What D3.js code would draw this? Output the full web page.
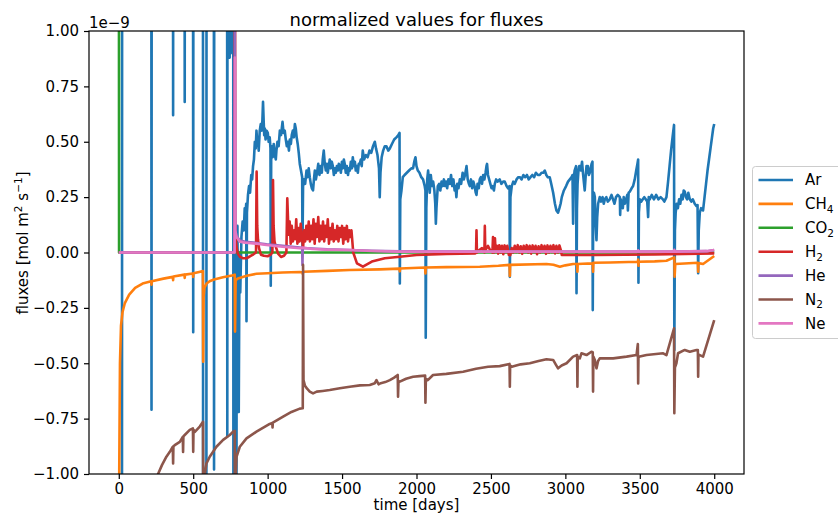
<!DOCTYPE html>
<html>
<head>
<meta charset="utf-8">
<script src="https://cdn.jsdelivr.net/npm/d3@7"></script>
<style>
  body { margin: 0; background: #fff; }
  svg { font-family: "DejaVu Sans", sans-serif; }
</style>
</head>
<body>
<svg id="chart" width="838" height="523"></svg>
<script>
// Legend order = drawing order
const seriesNames = ["Ar", "CH4", "CO2", "H2", "He", "N2", "Ne"];
const seriesColors = ["#1f77b4", "#ff7f0e", "#2ca02c", "#d62728", "#9467bd", "#8c564b", "#e377c2"];

// [time in days, flux in 1e-9 mol m2 s-1]; +-3 = off the visible range
const arData = [
  [0,-3],[21,-3],[23,3],
  [218,3],[220,-0.71],[222,3],
  [363,3],[365,0.62],[367,3],
  [441,3],[443,0.68],[445,3],
  [498,3],[500,-0.36],[502,3],
  [565,3],[567,-3],[588,-3],[590,3],
  [638,3],[640,-0.98],[642,3],
  [727,3],[729,-0.83],[731,3],
  [743,3],[745,0.88],[748,3],[752,0.9],[755,3],
  [768,3],[771,-3],[776,3],[781,-3],[788,-3],
  [792,-0.2],[797,0.12],[801,-0.3],[806,-0.72],[811,0.0],[816,-0.18],[824,0.07],[832,0.14],[840,0.1],[846,0.2],[852,0.18],[856,0.22],[858,-0.31],[861,0.18],[868,0.26],[875,0.3],[882,0.27],[890,0.35],[896,0.33],[902,0.39],[908,0.42],[914,0.5],[920,0.47],[925,0.55],[930,0.5],[934,0.52],[940,0.46],[947,0.55],[954,0.58],[960,0.55],[965,0.6],[969,0.68],[973,0.6],[977,0.53],[981,0.56],[986,0.51],[993,0.55],[1001,0.54],[1007,0.5],[1014,0.52],[1019,0.47],[1021,-0.15],[1024,0.45],[1028,0.48],[1034,0.43],[1041,0.49],[1048,0.44],[1055,0.42],[1059,0.46],[1066,0.5],[1074,0.48],[1082,0.55],[1090,0.53],[1100,0.59],[1107,0.54],[1115,0.55],[1122,0.51],[1129,0.48],[1136,0.5],[1143,0.46],[1149,0.51],[1156,0.49],[1162,0.53],[1169,0.55],[1176,0.52],[1183,0.58],[1189,0.56],[1195,0.52],[1202,0.49],[1209,0.45],[1216,0.4],[1224,0.37],[1232,0.34],[1234,0.02],[1238,0.3],[1245,0.33],[1252,0.31],[1261,0.37],[1268,0.34],[1276,0.38],[1283,0.34],[1290,0.31],[1297,0.29],[1305,0.28],[1311,0.33],[1317,0.37],[1324,0.33],[1332,0.36],[1340,0.4],[1348,0.35],[1356,0.39],[1364,0.36],[1370,0.42],[1377,0.46],[1384,0.4],[1391,0.37],[1398,0.4],[1404,0.36],[1411,0.39],[1417,0.42],[1424,0.38],[1431,0.41],[1438,0.39],[1445,0.35],[1452,0.38],[1458,0.36],[1465,0.39],[1472,0.37],[1478,0.4],[1485,0.39],[1492,0.36],[1499,0.41],[1505,0.38],[1512,0.42],[1518,0.4],[1525,0.36],[1532,0.39],[1540,0.35],[1546,0.38],[1552,0.37],[1559,0.41],[1566,0.38],[1572,0.43],[1579,0.39],[1586,0.41],[1592,0.37],[1599,0.39],[1606,0.36],[1612,0.4],[1619,0.4],[1626,0.42],[1632,0.39],[1639,0.46],[1648,0.42],[1660,0.44],[1672,0.43],[1684,0.46],[1696,0.45],[1708,0.48],[1720,0.5],[1728,0.47],[1738,0.44],[1748,0.38],[1753,0.25],[1758,0.36],[1766,0.43],[1776,0.46],[1787,0.48],[1798,0.48],[1810,0.46],[1821,0.47],[1835,0.49],[1850,0.51],[1865,0.52],[1878,0.53],[1886,0.54],[1888,-0.14],[1891,0.24],[1899,0.28],[1908,0.34],[1920,0.35],[1935,0.36],[1950,0.37],[1965,0.38],[1977,0.38],[1985,0.41],[1993,0.43],[2000,0.39],[2009,0.37],[2020,0.36],[2032,0.34],[2044,0.33],[2055,0.3],[2060,0.28],[2062,-0.385],[2066,0.2],[2072,0.33],[2078,0.37],[2084,0.32],[2089,0.27],[2096,0.35],[2104,0.3],[2112,0.32],[2120,0.28],[2126,0.22],[2130,0.13],[2134,0.2],[2143,0.3],[2152,0.31],[2160,0.28],[2168,0.32],[2176,0.3],[2184,0.33],[2190,0.3],[2198,0.32],[2206,0.29],[2214,0.33],[2224,0.31],[2232,0.35],[2240,0.3],[2248,0.33],[2256,0.28],[2262,0.3],[2268,0.25],[2274,0.31],[2282,0.29],[2291,0.33],[2300,0.31],[2310,0.36],[2318,0.33],[2326,0.35],[2336,0.39],[2344,0.33],[2352,0.31],[2358,0.3],[2366,0.33],[2374,0.29],[2382,0.32],[2390,0.3],[2398,0.27],[2403,0.26],[2410,0.31],[2418,0.29],[2425,0.33],[2432,0.34],[2440,0.31],[2448,0.35],[2456,0.33],[2464,0.36],[2470,0.39],[2474,0.4],[2480,0.35],[2488,0.33],[2496,0.31],[2504,0.29],[2512,0.3],[2520,0.28],[2526,0.31],[2535,0.33],[2545,0.32],[2559,0.33],[2570,0.31],[2582,0.32],[2593,0.32],[2605,0.3],[2615,0.29],[2625,0.3],[2627,-0.11],[2631,0.25],[2640,0.3],[2650,0.32],[2660,0.31],[2672,0.33],[2684,0.34],[2694,0.34],[2706,0.33],[2718,0.35],[2730,0.34],[2742,0.35],[2754,0.33],[2766,0.34],[2778,0.35],[2790,0.34],[2802,0.36],[2815,0.35],[2828,0.35],[2840,0.36],[2852,0.36],[2862,0.37],[2872,0.35],[2882,0.34],[2895,0.34],[2905,0.31],[2918,0.27],[2930,0.22],[2940,0.19],[2951,0.18],[2960,0.2],[2968,0.22],[2976,0.25],[2990,0.28],[3005,0.3],[3018,0.32],[3030,0.33],[3042,0.34],[3048,0.35],[3052,0.13],[3056,0.33],[3062,0.37],[3072,0.39],[3075,-0.184],[3078,0.2],[3082,0.31],[3088,0.37],[3093,0.39],[3097,0.39],[3104,0.37],[3112,0.41],[3118,0.36],[3124,0.32],[3130,0.28],[3136,0.34],[3142,0.39],[3148,0.36],[3151,0.39],[3158,0.35],[3164,0.36],[3170,0.38],[3176,0.4],[3182,0.41],[3184,-0.26],[3187,0.2],[3192,0.27],[3198,0.25],[3203,0.13],[3209,0.056],[3214,0.16],[3220,0.22],[3231,0.25],[3240,0.23],[3250,0.25],[3258,0.22],[3265,0.24],[3275,0.25],[3285,0.23],[3298,0.24],[3310,0.26],[3320,0.24],[3330,0.22],[3340,0.25],[3352,0.26],[3366,0.25],[3368,0.17],[3372,0.24],[3386,0.2],[3392,0.25],[3399,0.22],[3408,0.24],[3416,0.26],[3420,0.19],[3425,0.27],[3433,0.275],[3445,0.29],[3455,0.3],[3466,0.33],[3476,0.37],[3484,0.4],[3489,0.42],[3491,-0.136],[3494,0.18],[3500,0.24],[3510,0.23],[3520,0.24],[3530,0.25],[3540,0.24],[3550,0.23],[3556,0.16],[3560,0.25],[3567,0.24],[3580,0.26],[3595,0.24],[3610,0.26],[3625,0.24],[3640,0.25],[3655,0.24],[3665,0.23],[3679,0.25],[3690,0.32],[3700,0.39],[3710,0.46],[3720,0.52],[3730,0.576],[3732,-0.44],[3736,0.1],[3741,0.18],[3748,0.22],[3756,0.2],[3764,0.24],[3772,0.22],[3780,0.26],[3788,0.24],[3795,0.28],[3802,0.275],[3810,0.25],[3818,0.24],[3826,0.27],[3836,0.24],[3846,0.23],[3856,0.24],[3869,0.22],[3880,0.21],[3888,0.214],[3892,-0.094],[3896,0.1],[3903,0.18],[3912,0.2],[3925,0.19],[3935,0.25],[3945,0.31],[3955,0.37],[3965,0.42],[3975,0.47],[3985,0.52],[3993,0.56],[4000,0.58]
];

const ch4Data = [
  [0,-3],[3,-1.0],[8,-0.5],[15,-0.33],[25,-0.27],[40,-0.23],[70,-0.19],[110,-0.16],[160,-0.14],[218,-0.13],[220,-0.145],[222,-0.13],[300,-0.118],[363,-0.11],[365,-0.125],[367,-0.108],[441,-0.1],[443,-0.115],[445,-0.1],[498,-0.095],[500,-0.11],[502,-0.094],[540,-0.088],[565,-0.084],[567,-0.493],[570,-0.2],[575,-0.16],[590,-0.14],[610,-0.13],[640,-0.122],[700,-0.112],[760,-0.104],[779,-0.1],[781,-0.357],[785,-0.125],[800,-0.117],[860,-0.105],[925,-0.096],[1000,-0.094],[1100,-0.09],[1216,-0.088],[1234,-0.09],[1236,-0.097],[1238,-0.087],[1400,-0.083],[1550,-0.079],[1753,-0.076],[1886,-0.073],[1888,-0.085],[1890,-0.072],[2058,-0.068],[2060,-0.095],[2062,-0.068],[2200,-0.066],[2425,-0.064],[2550,-0.06],[2625,-0.056],[2627,-0.106],[2629,-0.056],[2873,-0.052],[2920,-0.055],[2963,-0.064],[3000,-0.058],[3052,-0.052],[3079,-0.052],[3081,-0.087],[3083,-0.052],[3150,-0.05],[3184,-0.05],[3186,-0.087],[3188,-0.046],[3300,-0.045],[3487,-0.042],[3489,-0.032],[3491,-0.06],[3493,-0.042],[3600,-0.04],[3679,-0.037],[3732,-0.022],[3734,-0.109],[3738,-0.052],[3800,-0.05],[3890,-0.046],[3892,-0.087],[3894,-0.048],[3925,-0.052],[4000,-0.016]
];

const co2Data = [[0,3],[2,0],[780,0],[4000,0]];

const h2Data = [
  [0,0],[778,0],[780,3],[782,0.15],[786,0.06],[792,0.02],[800,-0.005],[815,-0.02],[835,-0.026],[858,-0.026],[880,-0.018],[905,-0.008],[922,0],[926,0.365],[930,0.12],[935,0.06],[942,0.02],[955,-0.01],[975,-0.015],[1000,-0.017],[1020,-0.01],[1032,0],[1036,0.327],[1040,0.12],[1046,0.05],[1055,0.026],[1070,-0.005],[1090,-0.02],[1110,-0.015],[1126,0],[1132,0.245],[1138,0.13],
  [1142,0.08],[1148,0.14],[1155,0.04],[1162,0.12],[1170,0.05],[1178,0.1],[1185,0.06],[1192,0.15],[1200,0.04],[1208,0.11],[1215,0.05],[1222,0.13],[1230,0.07],[1238,0.02],[1245,0.1],[1252,0.05],[1260,0.12],[1268,0.06],[1276,0.14],[1284,0.05],[1292,0.12],[1300,0.06],[1308,0.15],[1316,0.04],[1324,0.13],[1332,0.07],[1340,0.16],[1348,0.05],[1356,0.12],[1364,0.06],[1372,0.14],[1380,0.05],[1388,0.12],[1396,0.07],[1404,0.15],[1412,0.04],[1420,0.11],[1428,0.06],[1436,0.13],[1444,0.05],[1452,0.1],[1460,0.06],[1468,0.12],[1476,0.05],[1484,0.11],[1492,0.07],[1500,0.12],[1508,0.04],[1516,0.11],[1524,0.06],[1532,0.12],[1540,0.05],[1548,0.1],[1556,0.07],[1563,0.1],
  [1575,0.0],[1600,-0.049],[1640,-0.064],[1700,-0.041],[1787,-0.026],[1888,-0.019],[2000,-0.011],[2200,-0.006],[2395,-0.004],[2400,0],[2403,0.1],[2406,0.0],[2420,0.01],[2440,0.02],[2456,0.0],[2459,0.12],[2462,0.01],[2480,0.03],[2495,0.01],[2510,0.0],[2514,0.07],[2517,0.01],[2522,0.0],[2527,0.064],[2531,0.01],
  [2540,0.03],[2548,-0.005],[2556,0.033],[2565,0.0],[2574,0.03],[2583,-0.008],[2592,0.032],[2601,0.002],[2610,0.03],[2620,-0.01],[2630,-0.012],[2640,0.02],[2650,0.0],[2660,0.03],[2670,0.002],[2680,0.033],[2690,0.0],[2700,0.028],[2710,-0.006],[2720,0.03],[2730,0.003],[2740,0.033],[2750,0.0],[2760,0.03],[2770,-0.005],[2780,0.032],[2790,0.002],[2800,0.03],[2810,-0.008],[2820,0.028],[2830,0.0],[2840,0.033],[2850,0.003],[2860,0.03],[2870,-0.006],[2880,0.032],[2890,0.0],[2900,0.03],[2910,0.002],[2920,0.033],[2930,-0.004],[2940,0.03],[2950,0.0],[2960,0.032],[2970,0.01],[2976,-0.011],[3200,-0.011],[3600,-0.009],[4000,-0.004]
];

const heData = [[0,0],[778,0],[780,1.0],[783,0.1],[790,0.075],[813,0.054],[850,0.048],[925,0.043],[992,0.037],[1100,0.03],[1216,0.022],[1232,0.02],[1234,-0.056],[1236,0.02],[1300,0.018],[1400,0.014],[1552,0.011],[1700,0.008],[1888,0.005],[2500,0.004],[3700,0.004],[3950,0.006],[4000,0.011]];

const neData = [[0,0],[778,0],[780,0.88],[783,0.1],[790,0.071],[813,0.049],[850,0.044],[925,0.04],[992,0.034],[1100,0.026],[1216,0.019],[1234,0.022],[1300,0.016],[1400,0.013],[1552,0.011],[1700,0.007],[1888,0.004],[3487,0.004],[3489,0.01],[3491,0.004],[3730,0.004],[3732,0.012],[3736,0.004],[3950,0.006],[4000,0.011]];

const n2Data = [
  [230,-1.3],[264,-1.0],[290,-0.96],[320,-0.922],[343,-0.9],[363,-0.877],[365,-0.952],[367,-0.875],[376,-0.87],[410,-0.855],[430,-0.832],[432,-0.9],[434,-0.83],[443,-0.824],[477,-0.801],[498,-0.794],[500,-0.9],[502,-0.8],[511,-0.81],[544,-0.786],[566,-0.764],[568,-1.5],[578,-1.0],[589,-0.952],[611,-0.922],[656,-0.877],[701,-0.846],[746,-0.824],[768,-0.809],[779,-0.805],[781,-1.5],[786,-1.0],[791,-0.922],[813,-0.877],[858,-0.839],[925,-0.809],[1014,-0.774],[1031,-0.77],[1033,-0.79],[1035,-0.768],[1104,-0.741],[1160,-0.72],[1216,-0.705],[1236,-0.703],[1238,-0.056],[1241,-0.576],[1250,-0.6],[1265,-0.615],[1283,-0.628],[1305,-0.636],[1330,-0.628],[1370,-0.625],[1417,-0.621],[1485,-0.613],[1552,-0.606],[1620,-0.6],[1686,-0.598],[1720,-0.59],[1731,-0.576],[1745,-0.595],[1760,-0.59],[1790,-0.585],[1821,-0.576],[1850,-0.565],[1874,-0.553],[1876,-0.651],[1879,-0.58],[1888,-0.583],[1930,-0.57],[1977,-0.561],[2020,-0.558],[2058,-0.556],[2060,-0.678],[2063,-0.57],[2076,-0.576],[2111,-0.553],[2200,-0.548],[2313,-0.538],[2400,-0.525],[2481,-0.516],[2559,-0.513],[2625,-0.503],[2627,-0.606],[2629,-0.51],[2640,-0.516],[2700,-0.505],[2761,-0.5],[2820,-0.49],[2873,-0.482],[2918,-0.485],[2935,-0.505],[2951,-0.523],[2975,-0.51],[3008,-0.5],[3052,-0.47],[3079,-0.463],[3081,-0.606],[3083,-0.47],[3097,-0.478],[3108,-0.455],[3142,-0.463],[3175,-0.448],[3184,-0.45],[3186,-0.628],[3188,-0.47],[3198,-0.485],[3209,-0.523],[3220,-0.49],[3231,-0.478],[3321,-0.478],[3411,-0.47],[3478,-0.463],[3487,-0.413],[3489,-0.591],[3491,-0.47],[3500,-0.47],[3545,-0.463],[3657,-0.455],[3679,-0.463],[3730,-0.342],[3732,-0.726],[3736,-0.52],[3746,-0.5],[3757,-0.455],[3802,-0.44],[3836,-0.448],[3881,-0.44],[3890,-0.44],[3892,-0.561],[3894,-0.46],[3903,-0.463],[3925,-0.47],[4000,-0.305]
];

const seriesData = [arData, ch4Data, co2Data, h2Data, heData, n2Data, neData];

const xTicks = [0, 500, 1000, 1500, 2000, 2500, 3000, 3500, 4000];
const yTicks = [-1, -0.75, -0.5, -0.25, 0, 0.25, 0.5, 0.75, 1];

// Layout
const width = 838, height = 523;
const margin = {top: 31, right: 94, bottom: 49, left: 89};
const innerWidth = width - margin.left - margin.right;
const innerHeight = height - margin.top - margin.bottom;
const lineWidth = 2.6;

const xScale = d3.scaleLinear()
  .domain([-200, 4200])
  .range([0, innerWidth]);
const yScale = d3.scaleLinear()
  .domain([-1, 1])
  .range([innerHeight, 0]);

const svg = d3.select("#chart");

const chart = svg.append("g")
  .attr("transform", `translate(${margin.left}, ${margin.top})`);

chart.append("clipPath")
    .attr("id", "plot-clip")
  .append("rect")
    .attr("width", innerWidth)
    .attr("height", innerHeight);

// Lines
const lineGenerator = d3.line()
  .x(d => xScale(d[0]))
  .y(d => yScale(d[1]));

const lines = chart.append("g").attr("clip-path", "url(#plot-clip)");
seriesData.forEach((series, i) => {
  lines.append("path")
    .attr("d", lineGenerator(series))
    .attr("fill", "none")
    .attr("stroke", seriesColors[i])
    .attr("stroke-width", lineWidth)
    .attr("stroke-linejoin", "round")
    .attr("stroke-linecap", "butt");
});

// Axes
const bottomAxis = d3.axisBottom(xScale)
  .tickValues(xTicks)
  .tickSize(5)
  .tickPadding(4)
  .tickFormat(d3.format("d"));
const xAxis = chart.append("g")
  .attr("transform", `translate(0, ${innerHeight})`)
  .call(bottomAxis);

const leftAxis = d3.axisLeft(yScale)
  .tickValues(yTicks)
  .tickSize(5)
  .tickPadding(5)
  .tickFormat(d3.format(".2f"));
const yAxis = chart.append("g")
  .call(leftAxis);

[xAxis, yAxis].forEach(axis => {
  axis.select(".domain").remove();
  axis.selectAll("line").attr("stroke", "#000").attr("stroke-width", 1.2);
  axis.selectAll("text")
    .attr("fill", "#000")
    .style("font-size", "15px")
    .style("font-family", "DejaVu Sans");
});

// Frame
chart.append("rect")
  .attr("width", innerWidth)
  .attr("height", innerHeight)
  .attr("fill", "none")
  .attr("stroke", "#000")
  .attr("stroke-width", 1.2);

// Offset text, title, labels
chart.append("text")
  .attr("x", 0)
  .attr("y", -3)
  .style("font-size", "15px")
  .text("1e\u22129");

svg.append("text")
  .attr("x", margin.left + innerWidth / 2)
  .attr("y", 26)
  .attr("text-anchor", "middle")
  .style("font-size", "18px")
  .text("normalized values for fluxes");

svg.append("text")
  .attr("x", margin.left + innerWidth / 2)
  .attr("y", 510)
  .attr("text-anchor", "middle")
  .style("font-size", "15px")
  .text("time [days]");

const yLabel = svg.append("text")
  .attr("transform", "translate(28, 243) rotate(-90)")
  .attr("text-anchor", "middle")
  .style("font-size", "15px");
yLabel.append("tspan").text("fluxes [mol m");
yLabel.append("tspan").attr("dy", -6).style("font-size", "10.5px").text("2");
yLabel.append("tspan").attr("dy", 6).text(" s");
yLabel.append("tspan").attr("dy", -6).style("font-size", "10.5px").text("\u22121");
yLabel.append("tspan").attr("dy", 6).text("]");

// Legend (runs past the right edge, as in the original)
const legend = svg.append("g")
  .attr("transform", "translate(752.5, 166.5)");
legend.append("rect")
  .attr("width", 110)
  .attr("height", 172)
  .attr("rx", 3)
  .attr("fill", "#fff")
  .attr("fill-opacity", 0.8)
  .attr("stroke", "#cccccc")
  .attr("stroke-width", 1);

const rowStep = 23.9;
seriesNames.forEach((name, i) => {
  const row = legend.append("g")
    .attr("transform", `translate(0, ${13.5 + i * rowStep})`);
  row.append("line")
    .attr("x1", 6)
    .attr("x2", 40.5)
    .attr("stroke", seriesColors[i])
    .attr("stroke-width", lineWidth);
  const label = row.append("text")
    .attr("x", 52.5)
    .attr("dy", "0.36em")
    .style("font-size", "15px");
  const match = name.match(/^([A-Za-z]+)(\d*)$/);
  label.append("tspan").text(match[1]);
  if (match[2]) {
    label.append("tspan")
      .attr("dy", 3.5)
      .style("font-size", "10.5px")
      .text(match[2]);
  }
});
</script>
</body>
</html>
